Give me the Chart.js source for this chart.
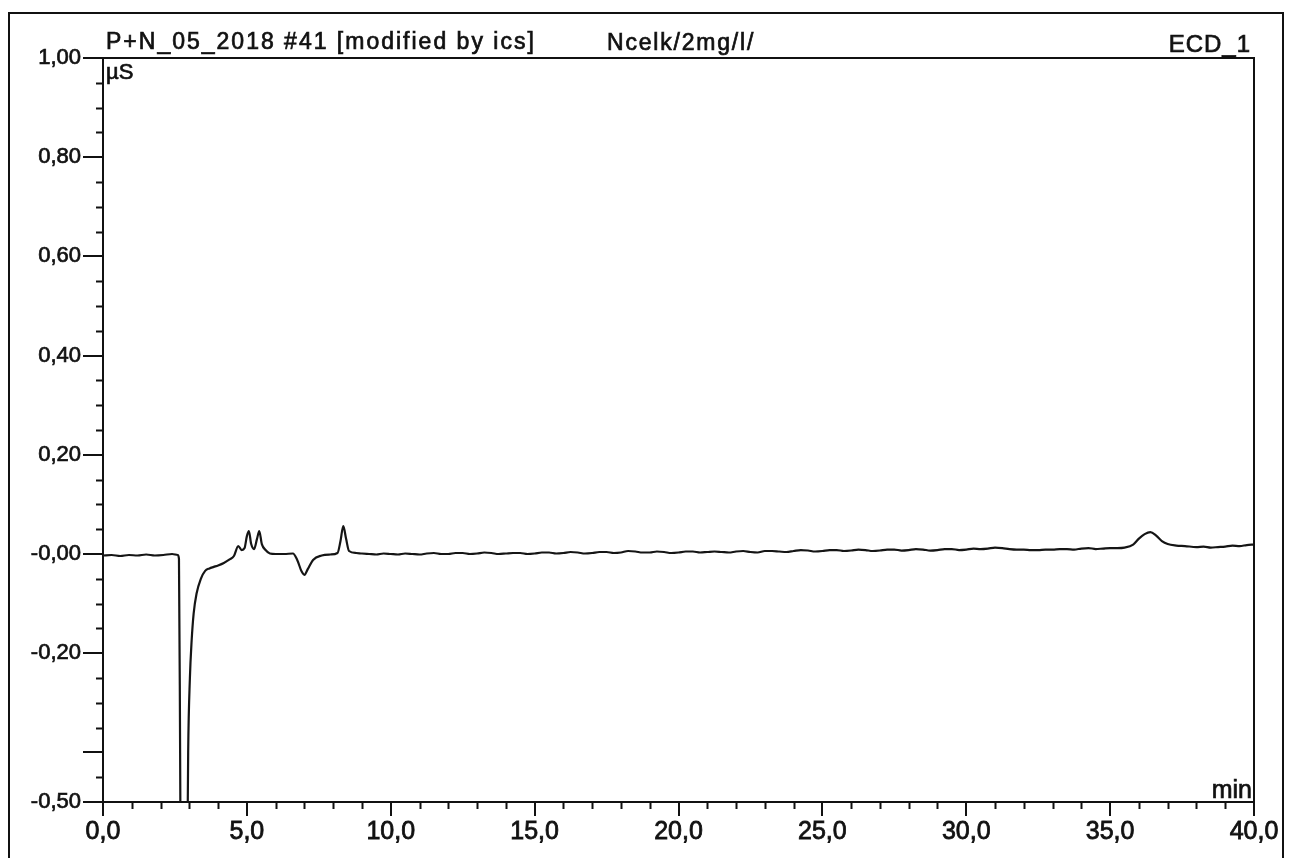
<!DOCTYPE html>
<html>
<head>
<meta charset="utf-8">
<script src="https://cdn.jsdelivr.net/npm/chart.js"></script>
<style>
  html, body { margin: 0; padding: 0; background: #fff; }
  #wrap { width: 1289px; height: 859px; }
</style>
</head>
<body>
<div id="wrap"><canvas id="chromatogram" width="1289" height="859"></canvas></div>
<script>
// retention time (min) and detector signal (µS)
const times = [
  0.0, 0.3, 0.6, 0.9, 1.2, 1.5, 1.8, 2.1, 2.4, 2.6,
  2.64, 2.68, 2.72, 2.82, 2.92, 2.96, 3.02, 3.08, 3.15, 3.25,
  3.4, 3.55, 3.7, 3.85, 4.0, 4.2, 4.4, 4.55, 4.7, 4.82,
  4.92, 5.0, 5.07, 5.15, 5.25, 5.35, 5.43, 5.52, 5.65, 5.8,
  6.0, 6.3, 6.6, 6.75, 6.9, 7.0, 7.12, 7.3, 7.6, 7.9,
  8.15, 8.25, 8.35, 8.45, 8.55, 8.8,
  9.0, 9.25, 9.5, 9.75, 10.0, 10.25, 10.5, 10.75, 11.0, 11.25, 11.5, 11.75,
  12.0, 12.25, 12.5, 12.75, 13.0, 13.25, 13.5, 13.75, 14.0, 14.25, 14.5, 14.75,
  15.0, 15.25, 15.5, 15.75, 16.0, 16.25, 16.5, 16.75, 17.0, 17.25, 17.5, 17.75,
  18.0, 18.25, 18.5, 18.75, 19.0, 19.25, 19.5, 19.75, 20.0, 20.25, 20.5, 20.75,
  21.0, 21.25, 21.5, 21.75, 22.0, 22.25, 22.5, 22.75, 23.0, 23.25, 23.5, 23.75,
  24.0, 24.25, 24.5, 24.75, 25.0, 25.25, 25.5, 25.75, 26.0, 26.25, 26.5, 26.75,
  27.0, 27.25, 27.5, 27.75, 28.0, 28.25, 28.5, 28.75, 29.0, 29.25, 29.5, 29.75,
  30.0, 30.25, 30.5, 30.75, 31.0, 31.25, 31.5, 31.75, 32.0, 32.25, 32.5, 32.75,
  33.0, 33.25, 33.5, 33.75, 34.0, 34.25, 34.5, 34.75, 35.0, 35.25, 35.5,
  35.8, 36.0, 36.2, 36.4, 36.6, 36.8, 37.0, 37.3, 37.6,
  38.0, 38.25, 38.5, 38.75, 39.0, 39.25, 39.5, 39.75, 40.0
];
const signal = [
  -0.003, -0.002, -0.004, -0.002, -0.003, -0.001, -0.003, -0.002, 0.000, -0.002,
  -0.01, -0.4, -0.9, -1.2, -0.7, -0.4, -0.25, -0.175, -0.12, -0.08,
  -0.05, -0.034, -0.029, -0.026, -0.023, -0.018, -0.011, -0.004, 0.016, 0.008,
  0.012, 0.036, 0.046, 0.020, 0.010, 0.030, 0.046, 0.020, 0.008, 0.001,
  0.000, 0.000, 0.001, -0.012, -0.035, -0.042, -0.030, -0.012, -0.003, -0.001,
  0.002, 0.025, 0.056, 0.030, 0.006, 0.002,
  0.001, 0.000, -0.001, 0.001, 0.000, -0.001, 0.001, 0.000, -0.001, 0.001, 0.002, 0.000,
  0.000, 0.002, 0.002, 0.000, 0.001, 0.003, 0.002, 0.000, 0.001, 0.002, 0.002, 0.000,
  0.001, 0.003, 0.003, 0.001, 0.002, 0.004, 0.003, 0.001, 0.002, 0.004, 0.004, 0.002,
  0.003, 0.006, 0.005, 0.003, 0.003, 0.005, 0.004, 0.002, 0.003, 0.005, 0.005, 0.003,
  0.004, 0.005, 0.004, 0.003, 0.005, 0.006, 0.004, 0.003, 0.006, 0.006, 0.005, 0.004,
  0.006, 0.008, 0.007, 0.005, 0.006, 0.008, 0.008, 0.006, 0.007, 0.009, 0.008, 0.006,
  0.007, 0.009, 0.009, 0.007, 0.008, 0.010, 0.009, 0.007, 0.008, 0.010, 0.010, 0.008,
  0.009, 0.011, 0.010, 0.011, 0.013, 0.012, 0.010, 0.009, 0.009, 0.008, 0.008, 0.009,
  0.009, 0.010, 0.010, 0.009, 0.011, 0.012, 0.010, 0.011, 0.012, 0.012, 0.013,
  0.019, 0.031, 0.040, 0.044, 0.037, 0.026, 0.020, 0.017, 0.016,
  0.014, 0.015, 0.013, 0.014, 0.015, 0.017, 0.016, 0.018, 0.019
];

// axis labels as printed
const yLabelValues = [1.0, 0.8, 0.6, 0.4, 0.2, 0.0, -0.2, -0.5];
const yLabelTexts = ['1,00', '0,80', '0,60', '0,40', '0,20', '-0,00', '-0,20', '-0,50'];
const yLongTicks = [1.0, 0.8, 0.6, 0.4, 0.2, 0.0, -0.2, -0.4, -0.5];
const xLabelValues = [0, 5, 10, 15, 20, 25, 30, 35, 40];
const xLabelTexts = ['0,0', '5,0', '10,0', '15,0', '20,0', '25,0', '30,0', '35,0', '40,0'];

const headerLeft = 'P+N_05_2018 #41 [modified by ics]';
const headerMid = 'Ncelk/2mg/l/';
const headerRight = 'ECD_1';
const yUnit = 'µS';
const xUnit = 'min';

const FONT = '"Liberation Sans", Arial, sans-serif';
const INK = '#111';

const key = v => Math.round(v * 100);
const yLabelMap = new Map(yLabelValues.map((v, i) => [key(v), yLabelTexts[i]]));
const yLongSet = new Set(yLongTicks.map(key));
const xLabelMap = new Map(xLabelValues.map((v, i) => [Math.round(v), xLabelTexts[i]]));

function heavyText(ctx, text, x, y) {
  ctx.fillText(text, x, y);
  ctx.strokeText(text, x, y);
}

// minor ticks, frame and header texts
const decorations = {
  id: 'decorations',
  beforeDraw(chart) {
    const ctx = chart.ctx;
    ctx.save();
    ctx.fillStyle = '#fff';
    ctx.fillRect(0, 0, chart.width, chart.height);
    ctx.restore();
  },
  afterDraw(chart) {
    const ctx = chart.ctx;
    const area = chart.chartArea;
    const xs = chart.scales.x;
    const ys = chart.scales.y;
    ctx.save();
    ctx.strokeStyle = INK;
    ctx.lineWidth = 2;

    // outer page frame
    ctx.beginPath();
    ctx.moveTo(9, 858);
    ctx.lineTo(9, 13);
    ctx.lineTo(1283, 13);
    ctx.lineTo(1283, 858);
    ctx.stroke();

    // top and right sides of the plot box
    ctx.beginPath();
    ctx.moveTo(area.left, area.top);
    ctx.lineTo(area.right, area.top);
    ctx.lineTo(area.right, area.bottom);
    ctx.stroke();

    // minor ticks
    ctx.beginPath();
    ys.ticks.forEach(t => {
      if (yLongSet.has(key(t.value))) return;
      const y = Math.round(ys.getPixelForValue(t.value)) + 0.5;
      ctx.moveTo(area.left - 7, y);
      ctx.lineTo(area.left, y);
    });
    xs.ticks.forEach(t => {
      if (xLabelMap.has(Math.round(t.value))) return;
      const x = Math.round(xs.getPixelForValue(t.value)) + 0.5;
      ctx.moveTo(x, area.bottom);
      ctx.lineTo(x, area.bottom + 7);
    });
    ctx.stroke();

    // header (the printout uses wide letter spacing)
    ctx.fillStyle = INK;
    ctx.lineWidth = 0.7;
    ctx.textBaseline = 'alphabetic';
    ctx.textAlign = 'left';
    ctx.font = '23px ' + FONT;
    ctx.letterSpacing = '2px';
    heavyText(ctx, headerLeft, area.left + 3, 49);
    ctx.letterSpacing = '1.8px';
    heavyText(ctx, headerMid, 607, 50);
    ctx.font = '24px ' + FONT;
    ctx.letterSpacing = '1px';
    ctx.textAlign = 'right';
    heavyText(ctx, headerRight, area.right - 3, 52);
    ctx.letterSpacing = '0px';

    // units
    ctx.textAlign = 'left';
    ctx.font = '22px ' + FONT;
    heavyText(ctx, yUnit, area.left + 3, 79);
    ctx.textAlign = 'right';
    ctx.font = '25px ' + FONT;
    heavyText(ctx, xUnit, area.right - 2, area.bottom - 4);
    ctx.restore();
  }
};

new Chart(document.getElementById('chromatogram'), {
  type: 'line',
  data: {
    datasets: [{
      data: times.map((t, i) => ({ x: t, y: signal[i] })),
      borderColor: '#151515',
      borderWidth: 2.2,
      pointRadius: 0,
      cubicInterpolationMode: 'monotone',
      fill: false
    }]
  },
  options: {
    responsive: false,
    animation: false,
    layout: { padding: { left: 0, right: 35, top: 58, bottom: 0 } },
    plugins: {
      legend: { display: false },
      tooltip: { enabled: false }
    },
    scales: {
      x: {
        type: 'linear',
        min: 0,
        max: 40,
        afterFit(scale) { scale.height = 57; },
        border: { display: true, color: INK, width: 2 },
        grid: {
          drawOnChartArea: false,
          drawTicks: true,
          tickLength: 14,
          lineWidth: 2,
          color: c => (c.tick && xLabelMap.has(Math.round(c.tick.value))) ? INK : 'rgba(0,0,0,0)'
        },
        ticks: {
          stepSize: 1,
          autoSkip: false,
          maxRotation: 0,
          padding: 1,
          color: INK,
          textStrokeColor: INK,
          textStrokeWidth: 0.8,
          font: { family: FONT, size: 25 },
          callback: v => xLabelMap.get(Math.round(v)) || ''
        }
      },
      y: {
        type: 'linear',
        min: -0.5,
        max: 1.0,
        afterFit(scale) { scale.width = 103; },
        border: { display: true, color: INK, width: 2 },
        grid: {
          drawOnChartArea: false,
          drawTicks: true,
          tickLength: 20,
          lineWidth: 2,
          color: c => (c.tick && yLongSet.has(key(c.tick.value))) ? INK : 'rgba(0,0,0,0)'
        },
        ticks: {
          stepSize: 0.05,
          autoSkip: false,
          padding: 2,
          color: INK,
          textStrokeColor: INK,
          textStrokeWidth: 0.7,
          font: { family: FONT, size: 22 },
          callback: v => yLabelMap.get(key(v)) || ''
        }
      }
    }
  },
  plugins: [decorations]
});
</script>
</body>
</html>
